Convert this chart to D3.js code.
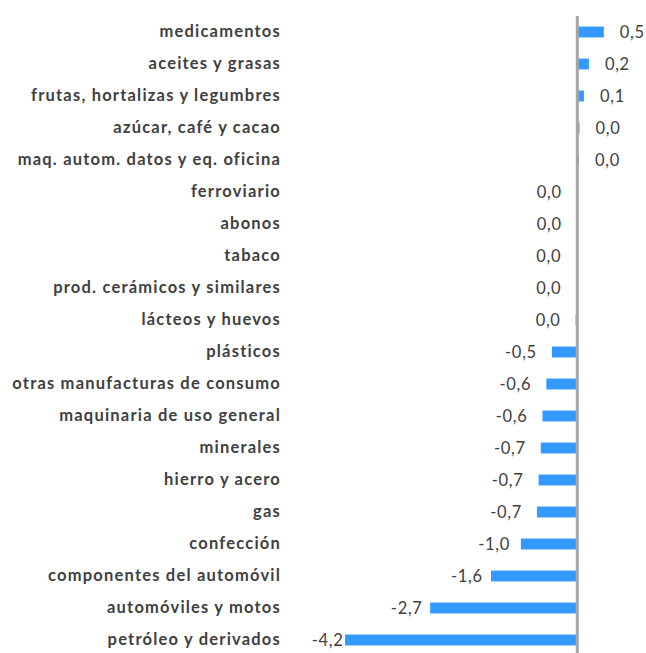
<!DOCTYPE html>
<html>
<head>
<meta charset="utf-8">
<script src="https://cdn.jsdelivr.net/npm/d3@7"></script>
<style>
  html, body { margin: 0; padding: 0; background: #ffffff; }
  svg { display: block; }
</style>
</head>
<body>
<svg id="chart" width="646" height="653"></svg>
<script>
const categories = [
  "medicamentos",
  "aceites y grasas",
  "frutas, hortalizas y legumbres",
  "azúcar, café y cacao",
  "maq. autom. datos y eq. oficina",
  "ferroviario",
  "abonos",
  "tabaco",
  "prod. cerámicos y similares",
  "lácteos y huevos",
  "plásticos",
  "otras manufacturas de consumo",
  "maquinaria de uso general",
  "minerales",
  "hierro y acero",
  "gas",
  "confección",
  "componentes del automóvil",
  "automóviles y motos",
  "petróleo y derivados"
];
const values = [
  0.48, 0.21, 0.12, 0.04, 0.03,
  -0.01, -0.01, -0.02, -0.02, -0.03,
  -0.46, -0.56, -0.63, -0.66, -0.70,
  -0.73, -1.02, -1.56, -2.66, -4.20
];
const xDomain = [-5, 1];

const data = categories.map((c, i) => ({ cat: c, val: values[i] }));

const svg = d3.select("#chart");
const zeroX = 577.3, unit = 55.3;
const plotLeft = 311;
const x = d3.scaleLinear().domain(xDomain).range([zeroX + xDomain[0] * unit, zeroX + xDomain[1] * unit]);
const y = d3.scaleBand().domain(categories).range([16, 656]).paddingInner(0.66).paddingOuter(0.33);

const locale = d3.formatLocale({ decimal: ",", thousands: ".", grouping: [3], currency: ["", "€"], minus: "-" });
const f1 = locale.format(".1f");
const fmt = v => { const r = Math.round(v * 10) / 10; return f1(r === 0 ? 0 : r); };

const textColor = "#404040";
const fontFam = "Lato, 'Open Sans', sans-serif";

// bars
svg.append("g").selectAll("rect").data(data).join("rect")
  .attr("x", d => Math.min(x(d.val), x(0)))
  .attr("y", d => y(d.cat))
  .attr("width", d => Math.abs(x(d.val) - x(0)))
  .attr("height", y.bandwidth())
  .attr("fill", "#3399FF");

// vertical axis line at zero
svg.append("line")
  .attr("x1", x(0)).attr("x2", x(0))
  .attr("y1", y.range()[0]).attr("y2", y.range()[1])
  .attr("stroke", "#A6A6A6").attr("stroke-width", 3);

// category labels
const yAxis = d3.axisLeft(y).tickSize(0).tickPadding(0);
const gAxis = svg.append("g").attr("transform", "translate(281,0)").call(yAxis);
gAxis.select(".domain").remove();
gAxis.selectAll("text")
  .attr("fill", textColor)
  .style("font-family", fontFam)
  .style("font-weight", "bold")
  .style("font-size", "16.5px")
  .style("letter-spacing", "1.2px");

// value labels
const labels = svg.append("g").selectAll("text").data(data).join("text")
  .attr("y", d => y(d.cat) + y.bandwidth() / 2)
  .attr("dy", "0.35em")
  .attr("text-anchor", d => d.val >= 0 ? "start" : "end")
  .attr("fill", textColor)
  .style("font-family", fontFam)
  .style("font-size", "16.5px")
  .style("letter-spacing", "0.7px")
  .text(d => fmt(d.val));

labels.attr("x", function(d) {
  if (d.val >= 0) return x(d.val) + 16;
  const L = x(0) - x(d.val);
  const gap = L <= 40 ? 15 : 7.5 + 7.5 * Math.exp(-(L - 40) / 20);
  const w = this.getComputedTextLength();
  let right = x(d.val) - gap;
  if (right - w < plotLeft) right = x(d.val) - 1.5;
  return right;
});
</script>
</body>
</html>
